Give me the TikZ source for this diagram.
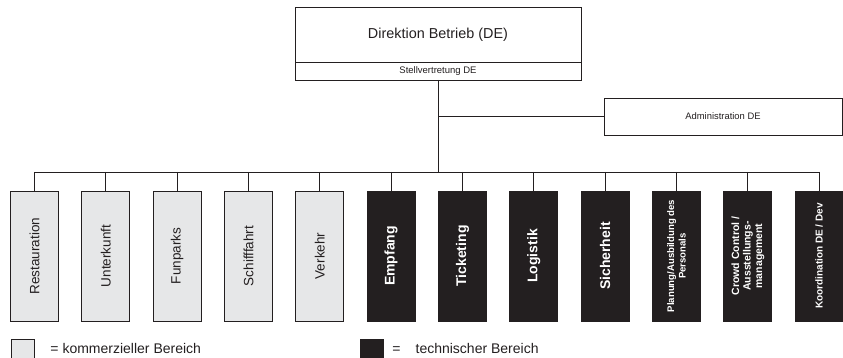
\documentclass[tikz,border=0pt]{standalone}
\usepackage{fontspec}
\setmainfont{Liberation Sans}
\usetikzlibrary{positioning}
\definecolor{kommgray}{RGB}{230,231,232}
\definecolor{technblack}{RGB}{35,31,32}

\begin{document}
\begin{tikzpicture}[x=1pt, y=-1pt, line width=0.9pt, color=technblack,
  unitbox/.style={draw=technblack, rotate=90, minimum width=130pt, minimum height=48pt,
    inner sep=0pt, outer sep=0pt, align=center},
  komm/.style={unitbox, fill=kommgray, font=\fontsize{13.5}{15}\selectfont},
  techn/.style={unitbox, fill=technblack, text=white, font=\bfseries\fontsize{14}{16}\selectfont},
  small/.style={font=\bfseries\fontsize{#1}{11.5}\selectfont},
  topbox/.style={draw, minimum width=286pt, inner sep=0pt, outer sep=0pt}]
  \useasboundingbox (0,0) rectangle (843,358);
  % Leitung
  \node[topbox, minimum height=55pt, font=\fontsize{14.4}{16}\selectfont] (dir) at (438,34.5)
    {Direktion Betrieb (DE)};
  \node[topbox, minimum height=18pt, font=\fontsize{9.5}{11}\selectfont, below=0pt of dir] (stv)
    {Stellvertretung DE};
  \node[draw, minimum width=238pt, minimum height=37pt, inner sep=0pt, outer sep=0pt,
    font=\fontsize{9.4}{11}\selectfont] (adm) at (723,116.5) {Administration DE};
  \coordinate (bus) at (438,172);
  % Bereiche
  \foreach \lab [count=\i] in {Restauration, Unterkunft, Funparks, Schifffahrt, Verkehr}
    \node[komm] (b\i) at ({34.5+(\i-1)*71.33},256) {\lab};
  \foreach \lab [count=\i from 6] in {Empfang, Ticketing, Logistik, Sicherheit}
    \node[techn] (b\i) at ({34.5+(\i-1)*71.33},256) {\lab};
  \node[techn, small=9.6] (b10) at ({34.5+9*71.33},256) {Planung/Ausbildung des\\Personals};
  \node[techn, small=10.5] (b11) at ({34.5+10*71.33},256) {Crowd Control /\\Ausstellungs-\\management};
  \node[techn, small=10] (b12) at ({34.5+11*71.33},256) {Koordination DE / Dev};
  % Linien
  \draw (stv.south) -- (bus);
  \draw (stv.south |- adm.west) -- (adm.west);
  \draw (b1.east |- bus) -- (b12.east |- bus);
  \foreach \i in {1,...,12}
    \draw (b\i.east |- bus) -- (b\i.east);
  % Legende
  \node[draw, fill=kommgray, minimum width=23pt, minimum height=19pt, inner sep=0pt,
    outer sep=0pt] (legk) at (22.5,348.5) {};
  \node[right=16pt of legk, inner sep=0pt, font=\fontsize{14}{16}\selectfont]
    {= kommerzieller Bereich};
  \node[draw, fill=technblack, minimum width=23pt, minimum height=19pt, inner sep=0pt,
    outer sep=0pt] (legt) at (371.5,348.5) {};
  \node[right=9pt of legt, inner sep=0pt, font=\fontsize{14}{16}\selectfont]
    {=\hspace{15pt}technischer Bereich};
\end{tikzpicture}
\end{document}
